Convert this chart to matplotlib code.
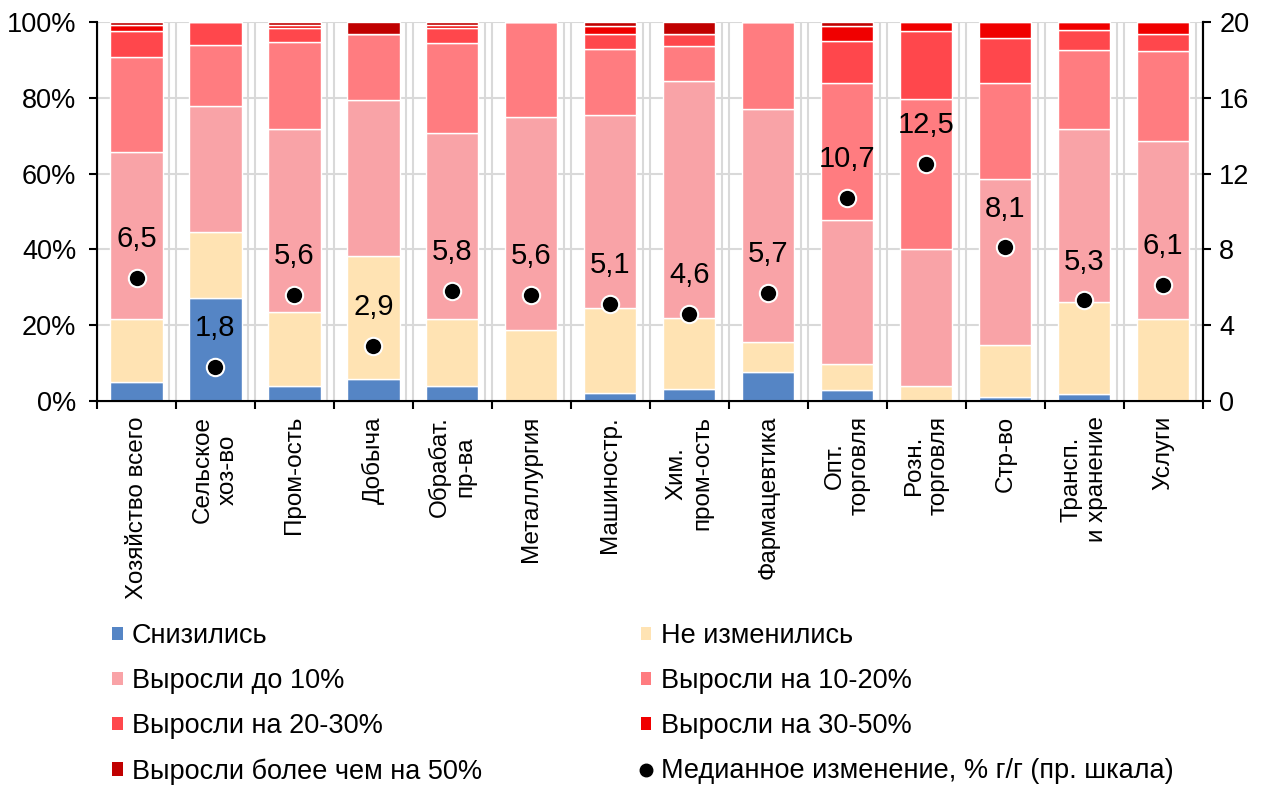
import numpy as np
import matplotlib
matplotlib.use("Agg")
import matplotlib.pyplot as plt
from matplotlib.lines import Line2D
from matplotlib.patches import Patch

plt.rcParams['font.family'] = ['Liberation Sans', 'DejaVu Sans']

# ДАННЫЕ
categories = ["Хозяйство всего", "Сельское\nхоз-во", "Пром-ость", "Добыча",
              "Обрабат.\nпр-ва", "Металлургия", "Машиностр.", "Хим.\nпром-ость",
              "Фармацевтика", "Опт.\nторговля", "Розн.\nторговля", "Стр-во",
              "Трансп.\nи хранение", "Услуги"]

snizilis      = [5.0, 27.2, 4.0, 5.8, 4.0, 0.0, 2.1, 3.2, 7.7, 2.9, 0.0, 1.1, 1.8, 0.0]
ne_izmenilis  = [16.6, 17.4, 19.5, 32.5, 17.6, 18.7, 22.4, 18.7, 7.9, 6.9, 4.0, 13.7, 24.3, 21.6]
do_10         = [44.2, 33.2, 48.3, 41.1, 49.1, 56.3, 50.9, 62.6, 61.4, 38.0, 36.1, 43.8, 45.7, 47.0]
na_10_20      = [25.0, 16.2, 23.0, 17.5, 23.8, 25.0, 17.5, 9.2, 23.0, 36.0, 39.7, 25.2, 20.8, 23.7]
na_20_30      = [6.8, 6.0, 3.6, 0.0, 3.9, 0.0, 3.9, 3.1, 0.0, 11.2, 17.8, 12.1, 5.2, 4.6]
na_30_50      = [1.7, 0.0, 0.8, 0.0, 0.8, 0.0, 2.1, 0.0, 0.0, 4.0, 2.4, 4.1, 2.2, 3.1]
bolee_50      = [0.7, 0.0, 0.8, 3.1, 0.8, 0.0, 1.1, 3.2, 0.0, 1.0, 0.0, 0.0, 0.0, 0.0]
mediana       = [6.5, 1.8, 5.6, 2.9, 5.8, 5.6, 5.1, 4.6, 5.7, 10.7, 12.5, 8.1, 5.3, 6.1]

serii = [
    ("Снизились", snizilis, "#5585C5"),
    ("Не изменились", ne_izmenilis, "#FFE3B3"),
    ("Выросли до 10%", do_10, "#F9A3A7"),
    ("Выросли на 10-20%", na_10_20, "#FF7C80"),
    ("Выросли на 20-30%", na_20_30, "#FF474C"),
    ("Выросли на 30-50%", na_30_50, "#F00000"),
    ("Выросли более чем на 50%", bolee_50, "#C00000"),
]

fig = plt.figure(figsize=(12.7, 7.89), dpi=100)
ax = fig.add_axes([0.0764, 0.492, 0.8706, 0.480])

x = np.arange(len(categories))
n = len(categories)

# СЕТКА
for k in range(n + 1):
    ax.axvline(k - 0.5, color="#D9D9D9", lw=1.5, zorder=0)
    ax.axvline(k - 0.59, color="#D9D9D9", lw=1.5, zorder=0)
for yv in range(20, 101, 20):
    ax.axhline(yv, color="#D9D9D9", lw=1.5, zorder=0)

# СТОЛБЦЫ
bottom = np.zeros(n)
handles = {}
for nombre, vals, color in serii:
    vals = np.array(vals)
    ax.bar(x, vals, 0.66, bottom=bottom, color=color, edgecolor="white",
           linewidth=1.0, zorder=2)
    bottom += vals
    handles[nombre] = Patch(facecolor=color, edgecolor="none")

ax.set_xlim(-0.5, n - 0.5)
ax.set_ylim(0, 100)
ax.set_yticks(range(0, 101, 20))
ax.set_yticklabels([f"{v}%" for v in range(0, 101, 20)], fontsize=19.5)
ax.set_xticks(np.arange(-0.5, n, 1.0))
ax.set_xticklabels([])
ax.set_xticks(x, minor=True)
ax.set_xticklabels(categories, minor=True, rotation=90, fontsize=17.5,
                   va="top", ha="center", multialignment="center")
ax.tick_params(axis="x", which="minor", length=0, pad=11)
ax.tick_params(axis="x", which="major", length=6, width=1.5, direction="out")
ax.tick_params(axis="y", length=6, width=1.5, direction="out", pad=9)

for s in ["top"]:
    ax.spines[s].set_visible(False)
for s in ["left", "right", "bottom"]:
    ax.spines[s].set_linewidth(1.5)

# ПРАВАЯ ШКАЛА
ax2 = ax.twinx()
ax2.set_ylim(0, 20)
ax2.set_yticks(range(0, 21, 4))
ax2.tick_params(axis="y", labelsize=19.5, length=6, width=1.5, direction="out", pad=6)
ax2.spines["top"].set_visible(False)
ax2.spines["right"].set_linewidth(1.5)
ax2.plot(x, mediana, "o", color="black", markersize=12.5, markeredgecolor="white",
         markeredgewidth=1.5, zorder=5)
for xi, m in zip(x, mediana):
    ax2.annotate(f"{m:.1f}".replace(".", ","), (xi, m), xytext=(0, 28),
                 textcoords="offset points", ha="center", va="center", fontsize=21)

# ЛЕГЕНДА
med_handle = Line2D([], [], marker="o", color="black", linestyle="none", markersize=9)
orden = ["Снизились", "Выросли до 10%", "Выросли на 20-30%", "Выросли более чем на 50%",
         "Не изменились", "Выросли на 10-20%", "Выросли на 30-50%"]
h = [handles[o] for o in orden] + [med_handle]
l = orden + ["Медианное изменение, % г/г (пр. шкала)"]
fig.legend(h, l, loc="upper left", bbox_to_anchor=(0.088, 0.21), ncol=2, frameon=False,
           fontsize=19.5, handlelength=0.4, handleheight=0.4, handletextpad=0.35,
           columnspacing=5.85, labelspacing=0.7, borderaxespad=0, borderpad=0)

fig.savefig("out.png", dpi=100)
